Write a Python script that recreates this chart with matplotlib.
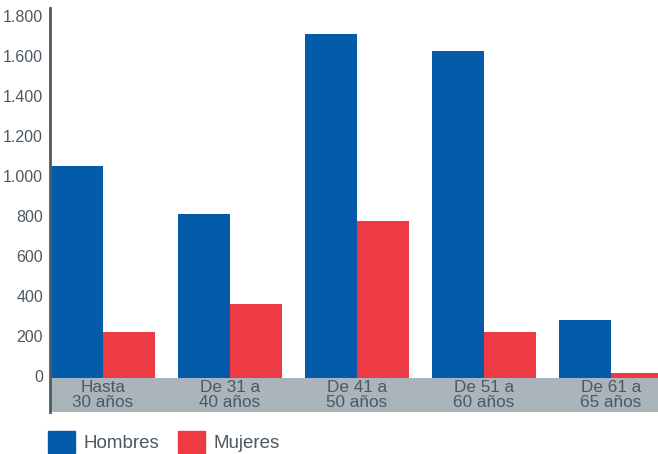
import matplotlib.pyplot as plt
from matplotlib.patches import Patch
import numpy as np

plt.rcParams['font.family'] = ['Liberation Sans', 'DejaVu Sans']

grupos = ['Hasta\n30 años', 'De 31 a\n40 años', 'De 41 a\n50 años', 'De 51 a\n60 años', 'De 61 a\n65 años']
hombres = [1060, 820, 1720, 1635, 290]
mujeres = [230, 370, 785, 230, 25]
yticks = [0, 200, 400, 600, 800, 1000, 1200, 1400, 1600, 1800]
ytick_labels = ['0', '200', '400', '600', '800', '1.000', '1.200', '1.400', '1.600', '1.800']

azul = '#035ba9'
rojo = '#ee3a43'
gris_texto = '#4d5862'

fig = plt.figure(figsize=(6.58, 4.54), dpi=100)
ax = fig.add_axes([50/658, 1 - 412/454, 1 - 50/658, 404/454])

x = np.arange(len(grupos))
w = 0.41
ax.bar(x - w/2, hombres, width=w, color=azul, zorder=2)
ax.bar(x + w/2, mujeres, width=w, color=rojo, zorder=2)

ax.axhspan(-170, 0, color='#a9b4bb', zorder=1, lw=0)
for i, g in enumerate(grupos):
    ax.text(i, -85, g, ha='center', va='center', fontsize=12.3, color=gris_texto,
            linespacing=0.92, zorder=3)

ax.set_xlim(-0.417, 4.37)
ax.set_ylim(-170, 1850)
ax.set_yticks(yticks)
ax.set_yticklabels(ytick_labels, fontsize=11.5, color=gris_texto, va='center')
ax.tick_params(axis='y', length=0, pad=5)
ax.tick_params(axis='x', length=0, labelbottom=False)
for s in ['top', 'right', 'bottom']:
    ax.spines[s].set_visible(False)
ax.spines['left'].set_color('#4f5b63')
ax.spines['left'].set_linewidth(2)

handles = [Patch(color=azul, label='Hombres'), Patch(color=rojo, label='Mujeres')]
fig.legend(handles=handles, loc='lower left', bbox_to_anchor=(31/658, -0.035), ncol=2,
           frameon=False, fontsize=13.5, handlelength=1.45, handleheight=1.45,
           handletextpad=0.45, columnspacing=1.0, labelcolor=gris_texto)

fig.savefig('out.png', dpi=100)
